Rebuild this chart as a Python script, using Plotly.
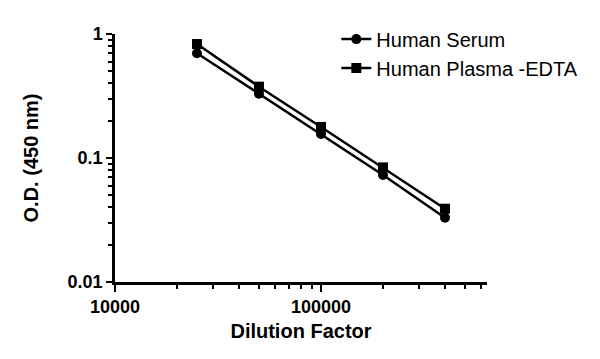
import plotly.graph_objects as go

dilution = [25000, 50000, 100000, 200000, 400000]
serum = [0.70, 0.33, 0.156, 0.073, 0.033]
plasma = [0.83, 0.376, 0.178, 0.084, 0.039]

x_major = [10000, 100000]
x_major_labels = ["10000", "100000"]
x_minor = [20000, 30000, 40000, 50000, 60000, 70000, 80000, 90000,
           200000, 300000, 400000, 500000, 600000]
y_major = [0.01, 0.1, 1]
y_major_labels = ["0.01", "0.1", "1"]
y_minor = [0.02, 0.03, 0.04, 0.05, 0.06, 0.07, 0.08, 0.09,
           0.2, 0.3, 0.4, 0.5, 0.6, 0.7, 0.8, 0.9]

FONT = "Liberation Sans, Arial, sans-serif"

fig = go.Figure()
fig.add_trace(go.Scatter(
    x=dilution, y=serum, name="Human Serum", mode="lines+markers",
    line=dict(color="black", width=2.5),
    marker=dict(symbol="circle", size=10, color="black"),
))
fig.add_trace(go.Scatter(
    x=dilution, y=plasma, name="Human Plasma -EDTA", mode="lines+markers",
    line=dict(color="black", width=2.5),
    marker=dict(symbol="square", size=10, color="black"),
))

fig.update_layout(
    width=600, height=359,
    margin=dict(l=107, r=121, t=26, b=85, autoexpand=False),
    plot_bgcolor="white", paper_bgcolor="white",
    showlegend=True,
    legend=dict(
        x=0.595, y=0.921, xref="paper", yref="paper",
        xanchor="left", yanchor="middle",
        font=dict(family=FONT, size=20, color="black"),
        bgcolor="rgba(0,0,0,0)", tracegroupgap=0, itemwidth=30,
    ),
    xaxis=dict(
        type="log", range=[4, 5.806], automargin=False,
        showline=True, linecolor="black", linewidth=2.5,
        showgrid=False, zeroline=False,
        ticks="outside", ticklen=7, tickwidth=2, tickcolor="black",
        tickmode="array", tickvals=x_major, ticktext=x_major_labels,
        tickfont=dict(family=FONT, size=18, color="black", weight="bold"),
        minor=dict(ticks="outside", ticklen=4, tickwidth=2, tickcolor="black",
                   tickmode="array", tickvals=x_minor, showgrid=False),
        title=dict(text="Dilution Factor", standoff=8,
                   font=dict(family=FONT, size=20, color="black", weight="bold")),
    ),
    yaxis=dict(
        type="log", range=[-2, 0], automargin=False,
        showline=True, linecolor="black", linewidth=2.5,
        showgrid=False, zeroline=False,
        ticks="outside", ticklen=6, tickwidth=2, tickcolor="black",
        tickmode="array", tickvals=y_major, ticktext=y_major_labels,
        tickfont=dict(family=FONT, size=18, color="black", weight="bold"),
        minor=dict(ticks="outside", ticklen=4, tickwidth=2, tickcolor="black",
                   tickmode="array", tickvals=y_minor, showgrid=False),
        title=dict(text="O.D. (450 nm)", standoff=24,
                   font=dict(family=FONT, size=20, color="black", weight="bold")),
    ),
)

fig.write_html("out.html")
